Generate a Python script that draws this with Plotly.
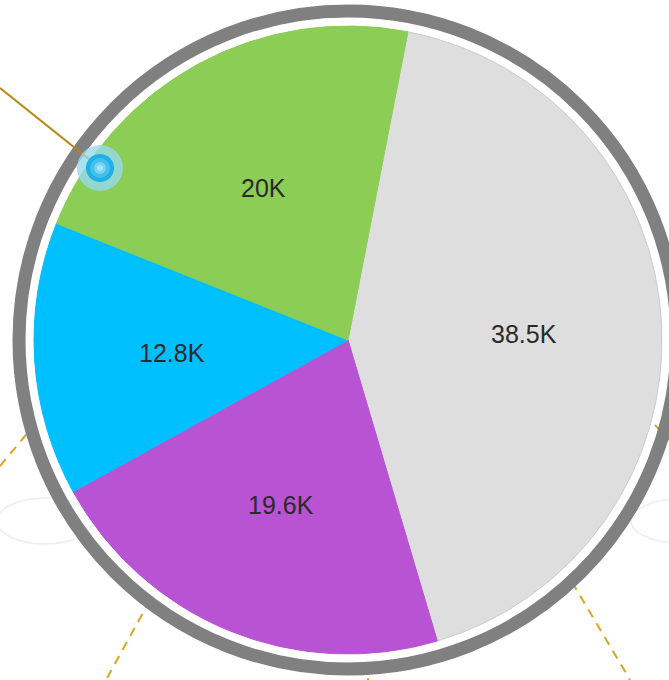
import math
import plotly.graph_objects as go

# ---- data ----
labels = ["A", "B", "C", "D"]
values = [38.5, 19.6, 12.8, 20.0]
text_labels = ["38.5K", "19.6K", "12.8K", "20K"]
colors = ["#dedede", "#b853d3", "#00bfff", "#8bcd55"]
border_colors = ["#cccccc", "#b853d3", "#00bfff", "#8bcd55"]

W, H = 669, 680
CX, CY, R = 348, 340, 314
START_ANGLE = 11      # degrees clockwise from 12 o'clock
LABEL_RADIUS = 0.56   # fraction of pie radius


def px(x):
    return x / W


def py(y):
    return 1 - y / H


fig = go.Figure()
fig.add_trace(go.Pie(
    labels=labels,
    values=values,
    textinfo="none",
    sort=False,
    direction="clockwise",
    rotation=START_ANGLE,
    marker=dict(colors=colors, line=dict(color=border_colors, width=1)),
    domain=dict(x=[px(CX - R), px(CX + R)], y=[py(CY + R), py(CY - R)]),
    hoverinfo="none",
    showlegend=False,
))

# slice labels at mid-angle of each slice (derived from the values)
total = sum(values)
annotations = []
cum = 0.0
for v, t in zip(values, text_labels):
    mid = START_ANGLE + 360.0 * (cum + v / 2) / total
    cum += v
    a = math.radians(mid)
    x = CX + LABEL_RADIUS * R * math.sin(a)
    y = CY - LABEL_RADIUS * R * math.cos(a) + 2
    annotations.append(dict(x=px(x), y=py(y), xref="paper", yref="paper",
                            text=t, showarrow=False,
                            xanchor="center", yanchor="middle",
                            font=dict(family="Liberation Sans, Arial, sans-serif",
                                      size=25, color="#2a2a2a")))

shapes = []


def line(x0, y0, x1, y1, color, width, dash=None, layer="below"):
    shapes.append(dict(type="line", xref="paper", yref="paper",
                       x0=px(x0), y0=py(y0), x1=px(x1), y1=py(y1),
                       line=dict(color=color, width=width, dash=dash), layer=layer))


def circle(cx, cy, rx, ry, fill=None, lcolor=None, lwidth=0, layer="below"):
    d = dict(type="circle", xref="paper", yref="paper",
             x0=px(cx - rx), x1=px(cx + rx), y0=py(cy + ry), y1=py(cy - ry),
             line=dict(color=lcolor or "rgba(0,0,0,0)", width=lwidth), layer=layer)
    if fill:
        d["fillcolor"] = fill
    shapes.append(d)


# faint ellipses behind
circle(45, 521, 48, 23, lcolor="#eeeeee", lwidth=1.5)
circle(680, 521, 49, 22, lcolor="#eeeeee", lwidth=1.5)

# dashed guide lines
gold = "#daa520"
line(0, 466, 30, 430, gold, 2, "9px,7px")
line(150, 600, 106, 680, gold, 2, "9px,7px")
line(368, 662, 368, 680, gold, 2, "9px,7px")
line(572, 582, 630, 680, gold, 2, "9px,7px")
line(655, 425, 669, 440, gold, 2, "9px,7px")

# outer ring
circle(CX, CY, 329, 329, lcolor="#808080", lwidth=13)

# brown connector and marker dot (above)
line(0, 88, 100, 168, "#b8860b", 2, layer="above")
circle(100, 168, 23, 23, fill="rgba(150,218,236,0.8)", layer="above")
circle(100, 168, 14, 14, fill="#1fb0e8", layer="above")
circle(100, 168, 10, 10, fill="#45c0ee", layer="above")
circle(100, 168, 6, 6, fill="#78d3f4", layer="above")
circle(100, 168, 3, 3, fill="#a8e4f8", layer="above")

fig.update_layout(
    width=W, height=H,
    margin=dict(l=0, r=0, t=0, b=0),
    paper_bgcolor="white",
    plot_bgcolor="white",
    shapes=shapes,
    annotations=annotations,
    showlegend=False,
)

fig.write_html("out.html",
               config={"displayModeBar": False},
               post_script="document.body.style.margin='0';document.body.style.overflow='hidden';")
